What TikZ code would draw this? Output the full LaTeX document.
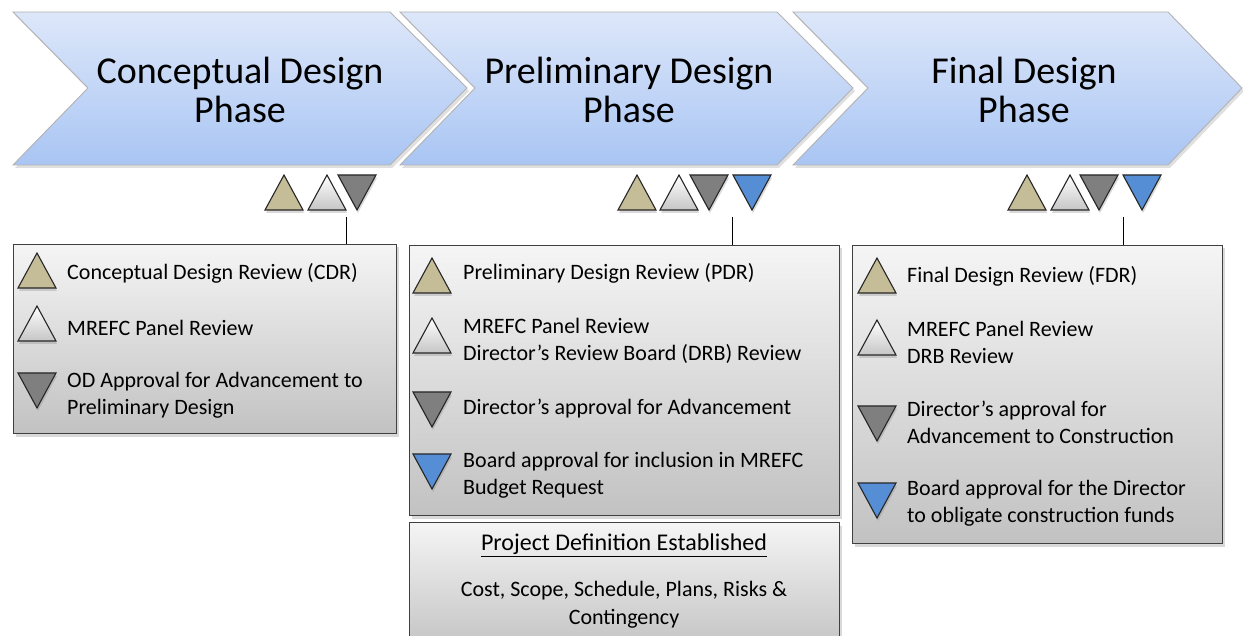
\documentclass[tikz,border=0pt]{standalone}
\usepackage{fontspec}
\setmainfont{Carlito}
\usetikzlibrary{positioning,shadows}

\definecolor{phasetop}{HTML}{DDE7FA}
\definecolor{phasebot}{HTML}{A9C5F3}
\definecolor{cdrtan}{HTML}{C4BD97}
\definecolor{odgray}{HTML}{7F7F7F}
\definecolor{nsbblue}{HTML}{558ED5}

% review markers: left x, top y, fill style
\newcommand{\uptri}[3]{\draw[tri,#3] (#1,#2+35) -- ++(38,0) -- ++(-19,-35) -- cycle;}
\newcommand{\dntri}[3]{\draw[tri,#3] (#1,#2) -- ++(38,0) -- ++(-19,35) -- cycle;}

\begin{document}
\begin{tikzpicture}[x=1pt,y=-1pt,
   phase/.style={draw=gray!60,line width=.9pt,top color=phasetop,bottom color=phasebot,
      drop shadow={opacity=.25,shadow xshift=2pt,shadow yshift=-3pt}},
   phasetext/.style={align=center,inner sep=0pt,font=\fontsize{38}{39}\selectfont},
   tri/.style={draw=black!85,line width=1.1pt,
      drop shadow={opacity=.3,shadow xshift=1pt,shadow yshift=-3pt}},
   cdr/.style={fill=cdrtan},
   panel/.style={top color=white,bottom color=gray!45},
   odapp/.style={fill=odgray},
   board/.style={fill=nsbblue},
   revbox/.style={draw=black!75,line width=1pt,inner sep=0pt,
      top color=gray!8,bottom color=gray!48,
      drop shadow={opacity=.3,shadow xshift=2pt,shadow yshift=-3pt}},
   item/.style={align=left,anchor=west,inner sep=0pt,font=\fontsize{22}{27}\selectfont},
   tick/.style={draw=black,line width=.7pt}]

\useasboundingbox (0,0) rectangle (1243,636);
\clip (0,0) rectangle (1243,636);

% phases
\draw[phase] (13,12) -- (390,12) -- (467,88) -- (390,165) -- (13,165) -- (88,88) -- cycle;
\draw[phase] (400,12) -- (777,12) -- (853,88) -- (777,165) -- (400,165) -- (475,88) -- cycle;
\draw[phase] (793,12) -- (1168,12) -- (1242,88) -- (1168,165) -- (793,165) -- (868,88) -- cycle;
\node[phasetext] (cdp) at (240,90) {Conceptual Design\\Phase};
\node[phasetext] (pdp) at (629,90) {Preliminary Design\\Phase};
\node[phasetext] (fdp) at (1024,90) {Final Design\\Phase};

% markers under the phases
\uptri{265}{175}{cdr} \uptri{308}{175}{panel} \dntri{338}{175}{odapp}
\uptri{618}{175}{cdr} \uptri{660}{175}{panel} \dntri{690}{175}{odapp} \dntri{733}{175}{board}
\uptri{1008}{175}{cdr} \uptri{1051}{175}{panel} \dntri{1080}{175}{odapp} \dntri{1123}{175}{board}

% review boxes
\node[revbox,anchor=north west,minimum width=383pt,minimum height=189pt] (cdrbox) at (13,244) {};
\node[revbox,anchor=north west,minimum width=430pt,minimum height=270pt] (pdrbox) at (409,245) {};
\node[revbox,anchor=north west,minimum width=370pt,minimum height=298pt] (fdrbox) at (852,245) {};
\node[revbox,minimum width=430pt,minimum height=130pt,below=6pt of pdrbox] (defbox) {};

\coordinate (cdrtick) at (346,217);
\coordinate (pdrtick) at (732,217);
\coordinate (fdrtick) at (1123,217);
\draw[tick] (cdrtick) -- (cdrtick |- cdrbox.north);
\draw[tick] (pdrtick) -- (pdrtick |- pdrbox.north);
\draw[tick] (fdrtick) -- (fdrtick |- fdrbox.north);

% conceptual
\uptri{18}{253}{cdr}
\node[item] (cdrrev) at (67,273) {Conceptual Design Review (CDR)};
\uptri{18}{306}{panel}
\node[item] (cdrpanel) at (67,328) {MREFC Panel Review};
\dntri{18}{373}{odapp}
\node[item] (cdrod) at (67,395) {OD Approval for Advancement to\\Preliminary Design};

% preliminary
\uptri{413}{258}{cdr}
\node[item] (pdrrev) at (463,273) {Preliminary Design Review (PDR)};
\uptri{413}{318}{panel}
\node[item] (pdrpanel) at (463,341) {MREFC Panel Review\\Director’s Review Board (DRB) Review};
\dntri{413}{392}{odapp}
\node[item] (pdrod) at (463,409) {Director’s approval for Advancement};
\dntri{413}{454}{board}
\node[item] (pdrboard) at (463,475) {Board approval for inclusion in MREFC\\Budget Request};

% final
\uptri{858}{258}{cdr}
\node[item] (fdrrev) at (907,276) {Final Design Review (FDR)};
\uptri{858}{320}{panel}
\node[item] (fdrpanel) at (907,342) {MREFC Panel Review\\DRB Review};
\dntri{858}{406}{odapp}
\node[item] (fdrod) at (907,422) {Director’s approval for\\Advancement to Construction};
\dntri{858}{483}{board}
\node[item] (fdrboard) at (907,503) {Board approval for the Director\\to obligate construction funds};

% project definition
\node[inner sep=0pt,font=\fontsize{24}{29}\selectfont] (deftitle) at (624,545) {\underline{Project Definition Established}};
\node[item,anchor=center,align=center,font=\fontsize{22}{28}\selectfont] (defbody) at (624,605) {Cost, Scope, Schedule, Plans, Risks \&\\Contingency};

\end{tikzpicture}
\end{document}
